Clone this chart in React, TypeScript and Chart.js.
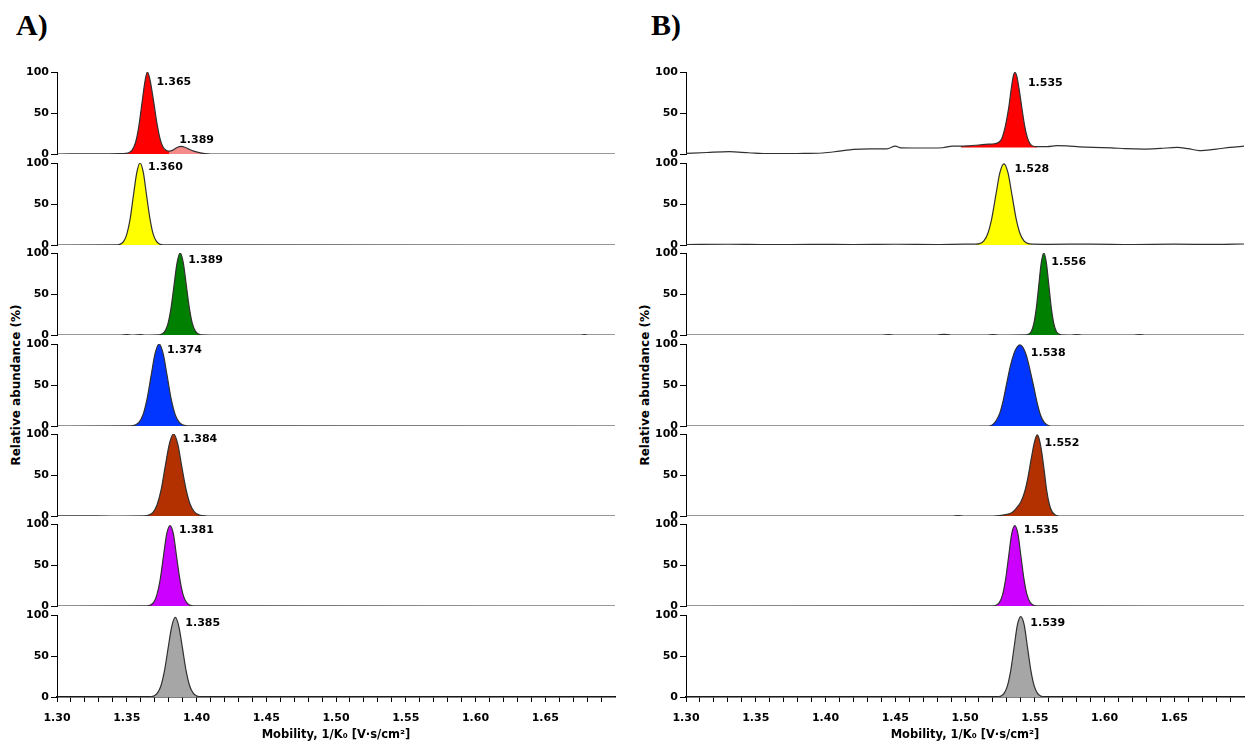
import React, { useEffect, useRef } from "react";
import { Chart, registerables } from "chart.js";

Chart.register(...registerables);

type Pt = [number, number];

// ---------------- DATA ----------------
// x tick positions (mobility, 1/K0) and which of them are labelled
const xTickValues = [
  1.30, 1.31, 1.32, 1.33, 1.34, 1.35, 1.36, 1.37, 1.38, 1.39,
  1.40, 1.41, 1.42, 1.43, 1.44, 1.45, 1.46, 1.47, 1.48, 1.49,
  1.50, 1.51, 1.52, 1.53, 1.54, 1.55, 1.56, 1.57, 1.58, 1.59,
  1.60, 1.61, 1.62, 1.63, 1.64, 1.65, 1.66, 1.67, 1.68, 1.69,
];
const xTickLabels = ["1.30", "1.35", "1.40", "1.45", "1.50", "1.55", "1.60", "1.65"];
const yTickValues = [0, 50, 100];
const xMin = 1.3;
const xMax = 1.7;

// Panel A traces (relative abundance %)
const aRed: Pt[] = [
  [1.30, 0], [1.33, 0.2], [1.345, 0.4], [1.349, 0.7], [1.3515, 1.6], [1.354, 5], [1.3563, 14],
  [1.3586, 33], [1.3609, 62], [1.3631, 89], [1.3648, 100], [1.3666, 91], [1.3691, 66], [1.3716, 38],
  [1.3738, 19], [1.376, 8.5], [1.3784, 4.3], [1.3808, 3.4], [1.3835, 5.2], [1.3864, 8.2], [1.389, 9.2],
  [1.3916, 8.3], [1.3945, 6], [1.398, 3.5], [1.402, 1.6], [1.406, 0.5], [1.41, 0], [1.44, 0], [1.70, 0],
];
const aYellow: Pt[] = [
  [1.30, 0], [1.3431, 0.2], [1.3454, 1.1], [1.3478, 4.4], [1.3501, 13.5], [1.3525, 32.5], [1.3548, 60.7],
  [1.3572, 88.2], [1.3595, 100], [1.3619, 88.2], [1.3642, 60.7], [1.3666, 32.5], [1.3689, 13.5],
  [1.3713, 4.4], [1.3736, 1.1], [1.376, 0.2], [1.70, 0],
];
const aGreen: Pt[] = [
  [1.30, 0], [1.345, 0], [1.35, 0.5], [1.354, 0], [1.36, 0.6], [1.363, 0], [1.3729, 0.2], [1.3751, 1.1],
  [1.3773, 4.4], [1.3795, 13.5], [1.3817, 32.5], [1.3839, 60.7], [1.3861, 88.2], [1.3883, 100],
  [1.3905, 88.2], [1.3927, 60.7], [1.3949, 32.5], [1.3971, 13.5], [1.3993, 4.4], [1.4015, 1.1],
  [1.4037, 0.2], [1.41, 0], [1.675, 0], [1.678, 0.6], [1.681, 0], [1.70, 0],
];
const aBlue: Pt[] = [
  [1.30, 0], [1.3529, 0.2], [1.3558, 1.1], [1.3587, 4.4], [1.3616, 13.5], [1.3645, 32.5], [1.3674, 60.7],
  [1.3703, 88.2], [1.3732, 100], [1.3761, 88.2], [1.379, 60.7], [1.3819, 32.5], [1.3848, 13.5],
  [1.3877, 4.4], [1.3906, 1.1], [1.3935, 0.2], [1.70, 0],
];
const aBrown: Pt[] = [
  [1.30, 0.3], [1.32, 0.2], [1.34, 0], [1.3629, 0.2], [1.3658, 1.1], [1.3688, 4.4], [1.3717, 13.5],
  [1.3747, 32.5], [1.3776, 60.7], [1.3806, 88.2], [1.3835, 100], [1.3865, 88.2], [1.3894, 60.7],
  [1.3924, 33.5], [1.3953, 15], [1.3983, 5.5], [1.4012, 1.8], [1.4042, 0.5], [1.408, 0], [1.70, 0],
];
const aPurple: Pt[] = [
  [1.30, 0], [1.3646, 0.2], [1.3669, 1.1], [1.3693, 4.4], [1.3716, 13.5], [1.374, 32.5], [1.3763, 60.7],
  [1.3787, 88.2], [1.381, 98], [1.3834, 88.2], [1.3857, 60.7], [1.3881, 32.5], [1.3904, 13.5],
  [1.3928, 4.4], [1.3951, 1.1], [1.3975, 0.2], [1.70, 0],
];
const aGrey: Pt[] = [
  [1.30, 0], [1.3666, 0.2], [1.3692, 1.1], [1.3718, 4.3], [1.3744, 13.1], [1.377, 31.5], [1.3796, 58.9],
  [1.3822, 85.6], [1.3848, 97], [1.3874, 85.6], [1.39, 58.9], [1.3926, 31.5], [1.3952, 13.1],
  [1.3978, 4.3], [1.4004, 1.1], [1.403, 0.2], [1.70, 0],
];

// Panel B traces
const bRed: Pt[] = [
  [1.30, 0.7], [1.315, 1.8], [1.331, 2.8], [1.345, 1.5], [1.36, 0.4], [1.38, 0.6], [1.398, 1.2],
  [1.41, 3.5], [1.42, 5.6], [1.432, 6.3], [1.444, 6.3], [1.45, 9.5], [1.454, 7.5], [1.465, 7.3],
  [1.475, 7.3], [1.484, 7.6], [1.491, 9.7], [1.497, 9.5], [1.503, 10], [1.51, 11], [1.517, 12],
  [1.521, 12.5], [1.524, 14], [1.5264, 19], [1.5288, 33], [1.5312, 55], [1.5332, 80], [1.5346, 95],
  [1.5358, 99.5], [1.5371, 95], [1.5387, 80], [1.5407, 57], [1.5427, 35], [1.5447, 20], [1.5467, 12.5],
  [1.549, 9.5], [1.5518, 9], [1.559, 9], [1.566, 10.2], [1.573, 10], [1.582, 8.8], [1.592, 8],
  [1.605, 7.5], [1.615, 6.5], [1.628, 6], [1.64, 6.8], [1.652, 8], [1.66, 6.5], [1.668, 4.2],
  [1.68, 6], [1.69, 8], [1.70, 9.5],
];
const bYellow: Pt[] = [
  [1.30, 0.6], [1.33, 0.9], [1.36, 0.4], [1.39, 0.8], [1.42, 0.5], [1.45, 0.9], [1.48, 0.6], [1.50, 1],
  [1.5076, 1], [1.5105, 1.6], [1.5134, 4.8], [1.5163, 13.8], [1.5192, 32.6], [1.5221, 60.7],
  [1.525, 88.2], [1.5279, 99], [1.5308, 88.2], [1.5337, 60.7], [1.5366, 32.6], [1.5395, 13.8],
  [1.5424, 4.8], [1.5453, 1.6], [1.5482, 1], [1.56, 0.8], [1.59, 1.1], [1.62, 0.6], [1.65, 1],
  [1.68, 0.7], [1.70, 1.2],
];
const bGreen: Pt[] = [
  [1.30, 0], [1.44, 0], [1.445, 0.6], [1.45, 0], [1.48, 0], [1.485, 0.7], [1.49, 0], [1.515, 0],
  [1.52, 0.6], [1.525, 0], [1.5439, 0.2], [1.5457, 1.1], [1.5475, 4.4], [1.5493, 13.5], [1.5511, 32.5],
  [1.5529, 60.7], [1.5547, 88.2], [1.5565, 100], [1.5583, 88.2], [1.5601, 60.7], [1.5619, 32.5],
  [1.5637, 13.5], [1.5655, 4.4], [1.5673, 1.1], [1.5691, 0.2], [1.575, 0], [1.58, 0.6], [1.585, 0],
  [1.62, 0], [1.625, 0.5], [1.63, 0], [1.70, 0],
];
const bBlue: Pt[] = [
  [1.30, 0], [1.517, 0], [1.52, 2], [1.5225, 7], [1.525, 16], [1.5275, 32], [1.53, 53], [1.5325, 73],
  [1.535, 88], [1.5372, 96], [1.5393, 99], [1.5415, 96], [1.544, 86], [1.5465, 69], [1.549, 50],
  [1.5515, 30], [1.554, 14], [1.5565, 5], [1.559, 1.2], [1.5615, 0], [1.70, 0],
];
const bBrown: Pt[] = [
  [1.30, 0], [1.49, 0], [1.495, 0.5], [1.50, 0], [1.52, 0], [1.526, 0.8], [1.53, 2], [1.534, 4.5],
  [1.537, 10], [1.54, 17], [1.5425, 28], [1.545, 46], [1.5475, 70], [1.5495, 88], [1.5508, 96],
  [1.5517, 99], [1.553, 95], [1.5548, 80], [1.5568, 55], [1.5585, 32], [1.5605, 14], [1.5625, 5],
  [1.565, 1], [1.568, 0], [1.70, 0],
];
const bPurple: Pt[] = [
  [1.30, 0], [1.5203, 0.2], [1.5225, 1.1], [1.5247, 4.4], [1.5269, 13.5], [1.5291, 32.5], [1.5313, 60.7],
  [1.5335, 88.2], [1.5357, 98], [1.5379, 88.2], [1.5401, 60.7], [1.5423, 32.5], [1.5445, 13.5],
  [1.5467, 4.4], [1.5489, 1.1], [1.5511, 0.2], [1.70, 0],
];
const bGrey: Pt[] = [
  [1.30, 0], [1.5232, 0.2], [1.5256, 1.1], [1.528, 4.4], [1.5304, 13.5], [1.5328, 32.5], [1.5352, 60.7],
  [1.5376, 88.2], [1.54, 98], [1.5424, 88.2], [1.5448, 60.7], [1.5472, 32.5], [1.5496, 13.5],
  [1.552, 4.4], [1.5544, 1.1], [1.5568, 0.2], [1.70, 0],
];

// peak (filled) ranges, fill baselines and peak labels
const aFillRanges: [number, number][][] = [
  [[1.345, 1.3808], [1.3808, 1.41]], [[1.3431, 1.376]], [[1.3729, 1.4037]], [[1.3529, 1.3935]],
  [[1.3629, 1.408]], [[1.3646, 1.3975]], [[1.3666, 1.403]],
];
const bFillRanges: [number, number][][] = [
  [[1.497, 1.5518]], [[1.5076, 1.5482]], [[1.5439, 1.5691]], [[1.517, 1.5615]],
  [[1.52, 1.568]], [[1.5203, 1.5511]], [[1.5232, 1.5568]],
];
const aFillBases = [0, 0, 0, 0, 0, 0, 0];
const bFillBases = [8, 0, 0, 0, 0, 0, 0];
const aPeakLabels = [["1.365", "1.389"], ["1.360"], ["1.389"], ["1.374"], ["1.384"], ["1.381"], ["1.385"]];
const bPeakLabels = [["1.535"], ["1.528"], ["1.556"], ["1.538"], ["1.552"], ["1.535"], ["1.539"]];

// ---------------- STYLE / LAYOUT ----------------
const aFillColors = [["#ff0000", "#f48a8a"], ["#ffff00"], ["#008000"], ["#0036ff"], ["#b33000"], ["#cc00ff"], ["#a6a6a6"]];
const bFillColors = [["#ff0000"], ["#ffff00"], ["#008000"], ["#0036ff"], ["#b33000"], ["#cc00ff"], ["#a6a6a6"]];
const aLabelOffsets = [[[9, 10], [-2, -6.5]], [[8, 4]], [[8, 7]], [[8, 6]], [[9, 5]], [[9, 4.5]], [[10, 5.5]]];
const bLabelOffsets = [[[13, 10.5]], [[10.5, 5]], [[7.5, 9.5]], [[11, 8]], [[7.5, 8]], [[9, 4.5]], [[9.5, 6.5]]];

const FONT = '"DejaVu Sans", "Liberation Sans", sans-serif';
const LINE_COLOR = "#303030";
const AXIS_W = 50;
const PLOT_W = 558;
const PAD_R = 6;
const PAD_T = 10;
const PAD_B = 10;
const PLOT_H = 82;
const ROW_TOPS = [72, 163, 253, 344, 434, 524, 615];
const PAGE_H = 744;

interface FillSpec {
  from: number;
  to: number;
  base: number;
  color: string;
  label: string;
  dx: number;
  dy: number;
}

interface RowProps {
  left: number;
  top: number;
  width: number;
  height: number;
  isBottom: boolean;
  trace: Pt[];
  fills: FillSpec[];
}

function Row({ left, top, width, height, isBottom, trace, fills }: RowProps) {
  const ref = useRef<HTMLCanvasElement>(null);

  useEffect(() => {
    const canvas = ref.current;
    if (!canvas) return;

    const toXY = (pts: Pt[]) => pts.map(([x, y]) => ({ x, y }));
    const inRange = (f: FillSpec) => trace.filter(([x]) => x >= f.from - 1e-9 && x <= f.to + 1e-9);

    const datasets: any[] = [
      {
        data: toXY(trace),
        borderColor: LINE_COLOR,
        borderWidth: 1.2,
        pointRadius: 0,
        fill: false,
        cubicInterpolationMode: "monotone",
        order: 0,
      },
      ...fills.map((f) => ({
        data: toXY(inRange(f)),
        borderColor: "rgba(0,0,0,0)",
        borderWidth: 0,
        backgroundColor: f.color,
        pointRadius: 0,
        fill: f.base === 0 ? "origin" : { value: f.base },
        cubicInterpolationMode: "monotone",
        order: 1,
      })),
    ];

    const labelPlugin = {
      id: "peakLabels",
      afterDatasetsDraw(chart: any) {
        const { ctx } = chart;
        const xs = chart.scales.x;
        const ys = chart.scales.y;
        ctx.save();
        ctx.font = `bold 11px ${FONT}`;
        ctx.fillStyle = "#000";
        ctx.textAlign = "left";
        ctx.textBaseline = "middle";
        fills.forEach((f) => {
          const pts = inRange(f);
          let apex = pts[0];
          pts.forEach((p) => {
            if (p[1] > apex[1]) apex = p;
          });
          const px = xs.getPixelForValue(apex[0]);
          const py = ys.getPixelForValue(apex[1]);
          ctx.fillText(f.label, px + f.dx, py + f.dy);
        });
        ctx.restore();
      },
    };

    const tickFont = { family: FONT, size: 11, weight: "bold" as const };
    const xAxisH = height - PAD_T - PLOT_H;

    const chart = new Chart(canvas, {
      type: "line",
      data: { datasets },
      plugins: [labelPlugin],
      options: {
        animation: false,
        responsive: false,
        devicePixelRatio: 1,
        events: [],
        layout: { padding: { top: PAD_T, bottom: isBottom ? 0 : PAD_B, left: 0, right: PAD_R } },
        plugins: { legend: { display: false }, tooltip: { enabled: false }, title: { display: false } },
        scales: {
          x: {
            type: "linear",
            min: xMin,
            max: xMax,
            display: isBottom,
            afterBuildTicks: (s: any) => {
              s.ticks = xTickValues.map((v) => ({ value: v }));
            },
            afterFit: (s: any) => {
              if (isBottom) s.height = xAxisH;
            },
            ticks: {
              autoSkip: false,
              maxRotation: 0,
              minRotation: 0,
              padding: 10,
              color: "#000",
              font: tickFont,
              callback: (v: any) => {
                const t = Number(v).toFixed(2);
                return xTickLabels.includes(t) ? t : "";
              },
            },
            grid: { drawOnChartArea: false, drawTicks: true, tickLength: 5, color: "#000", lineWidth: 1 },
            border: { display: true, color: "#000", width: 1.5 },
            title: {
              display: true,
              text: "Mobility, 1/K\u2080 [V\u00b7s/cm\u00b2]",
              color: "#000",
              font: { family: FONT, size: 11.5, weight: "bold" },
              padding: { top: 0, bottom: 2 },
            },
          },
          y: {
            type: "linear",
            min: 0,
            max: 100,
            afterBuildTicks: (s: any) => {
              s.ticks = yTickValues.map((v) => ({ value: v }));
            },
            afterFit: (s: any) => {
              s.width = AXIS_W;
            },
            ticks: { padding: 2, color: "#000", font: tickFont },
            grid: { drawOnChartArea: false, drawTicks: true, tickLength: 6, color: "#000", lineWidth: 1 },
            border: { display: true, color: "#000", width: 1 },
          },
        },
      } as any,
    });

    return () => chart.destroy();
  }, [left, top, width, height, isBottom, trace, fills]);

  return (
    <canvas
      ref={ref}
      width={width}
      height={height}
      style={{ position: "absolute", left, top, width, height }}
    />
  );
}

interface PanelDef {
  letter: string;
  axisX: number;
  letterX: number;
  titleX: number;
  traces: Pt[][];
  ranges: [number, number][][];
  bases: number[];
  labels: string[][];
  colors: string[][];
  offsets: number[][][];
}

const panels: PanelDef[] = [
  {
    letter: "A)",
    axisX: 57,
    letterX: 16,
    titleX: 16,
    traces: [aRed, aYellow, aGreen, aBlue, aBrown, aPurple, aGrey],
    ranges: aFillRanges,
    bases: aFillBases,
    labels: aPeakLabels,
    colors: aFillColors,
    offsets: aLabelOffsets,
  },
  {
    letter: "B)",
    axisX: 686,
    letterX: 651,
    titleX: 645,
    traces: [bRed, bYellow, bGreen, bBlue, bBrown, bPurple, bGrey],
    ranges: bFillRanges,
    bases: bFillBases,
    labels: bPeakLabels,
    colors: bFillColors,
    offsets: bLabelOffsets,
  },
];

const rowsFor = (p: PanelDef) =>
  p.traces.map((trace, i) => {
    const fills: FillSpec[] = p.ranges[i].map((r, j) => ({
      from: r[0],
      to: r[1],
      base: p.bases[i] && j === 0 ? p.bases[i] : 0,
      color: p.colors[i][j],
      label: p.labels[i][j],
      dx: p.offsets[i][j][0],
      dy: p.offsets[i][j][1],
    }));
    const isBottom = i === p.traces.length - 1;
    const top = ROW_TOPS[i] - PAD_T;
    const height = isBottom ? PAGE_H - top : PAD_T + PLOT_H + PAD_B;
    return { trace, fills, isBottom, top, height };
  });

const builtPanels = panels.map((p) => ({ p, rows: rowsFor(p) }));

export default function App() {
  return (
    <div
      style={{
        position: "absolute",
        left: 0,
        top: 0,
        width: 1248,
        height: PAGE_H,
        background: "#fff",
        overflow: "hidden",
      }}
    >
      {builtPanels.map(({ p, rows }) => (
        <React.Fragment key={p.letter}>
          <div
            style={{
              position: "absolute",
              left: p.letterX,
              top: 10,
              font: 'bold 30px "Liberation Serif", "Times New Roman", serif',
              lineHeight: "30px",
              color: "#000",
              whiteSpace: "nowrap",
            }}
          >
            {p.letter}
          </div>
          <div
            style={{
              position: "absolute",
              left: p.titleX,
              top: 385,
              transform: "translate(-50%, -50%) rotate(-90deg)",
              font: `bold 12px ${FONT}`,
              color: "#000",
              whiteSpace: "nowrap",
            }}
          >
            Relative abundance (%)
          </div>
          {rows.map((r, i) => (
            <Row
              key={i}
              left={p.axisX - AXIS_W}
              top={r.top}
              width={AXIS_W + PLOT_W + PAD_R}
              height={r.height}
              isBottom={r.isBottom}
              trace={r.trace}
              fills={r.fills}
            />
          ))}
        </React.Fragment>
      ))}
    </div>
  );
}
